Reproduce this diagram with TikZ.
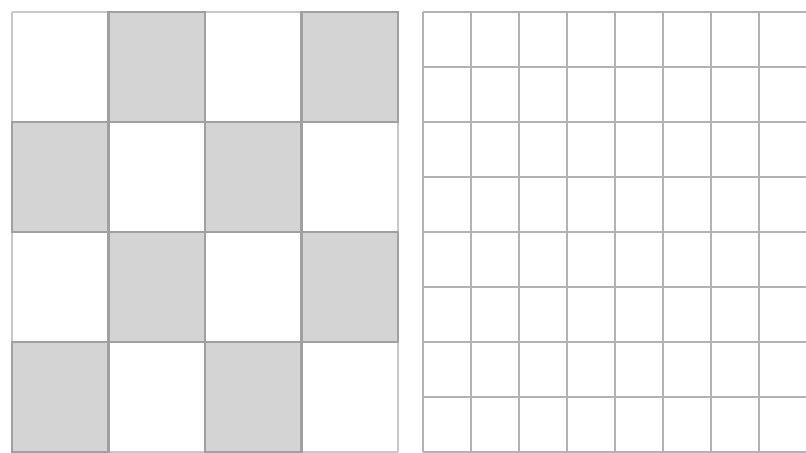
\documentclass[tikz,border=0pt]{standalone}
\usepackage{tikz}

\definecolor{cellgray}{RGB}{212,212,212}
\definecolor{edgegray}{RGB}{160,160,160}
\definecolor{linegray}{RGB}{200,200,200}
\definecolor{finegray}{RGB}{178,178,178}

\begin{document}
\begin{tikzpicture}
\useasboundingbox (0,0) rectangle (16.12,9.04);

% left board
\draw[linegray,line width=1.4pt,shift={(0.24,0)}] (0,0) grid[xstep=1.93,ystep=2.2] (7.72,8.8);

\draw[edgegray,fill=cellgray,line width=1.4pt] (2.17,6.6) rectangle (4.10,8.8);
\draw[edgegray,fill=cellgray,line width=1.4pt] (6.03,6.6) rectangle (7.96,8.8);

\draw[edgegray,fill=cellgray,line width=1.4pt] (0.24,4.4) rectangle (2.17,6.6);
\draw[edgegray,fill=cellgray,line width=1.4pt] (4.10,4.4) rectangle (6.03,6.6);

\draw[edgegray,fill=cellgray,line width=1.4pt] (2.17,2.2) rectangle (4.10,4.4);
\draw[edgegray,fill=cellgray,line width=1.4pt] (6.03,2.2) rectangle (7.96,4.4);

\draw[edgegray,fill=cellgray,line width=1.4pt] (0.24,0) rectangle (2.17,2.2);
\draw[edgegray,fill=cellgray,line width=1.4pt] (4.10,0) rectangle (6.03,2.2);

% right board
\draw[finegray,line width=1.4pt,shift={(8.46,0)}] (0,0) grid[xstep=0.96,ystep=1.1] (7.68,8.8);
\end{tikzpicture}
\end{document}
